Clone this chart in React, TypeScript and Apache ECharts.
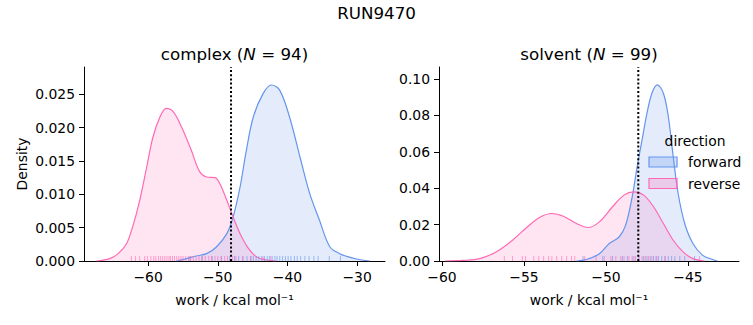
import React, { useEffect, useRef } from "react";
import * as echarts from "echarts";

// ---- data ----
const complexForwardKde: number[][] = [
  [-55.9, 0], [-54.5, 0.00036], [-53.1, 0.00075], [-51.6, 0.0011], [-50.2, 0.0021],
  [-48.7, 0.0041], [-47.8, 0.0066], [-46.8, 0.0111], [-45.9, 0.0166], [-44.9, 0.0216],
  [-43.5, 0.0251], [-42.3, 0.0264], [-41.1, 0.0256], [-39.7, 0.0216], [-38.2, 0.0156],
  [-36.8, 0.0101], [-35.4, 0.0061], [-33.9, 0.0021], [-32.5, 0.0011], [-31.5, 0.0007],
  [-30.1, 0.0003], [-28.2, 0],
];
const complexReverseKde: number[][] = [
  [-67.4, 0], [-65.5, 0.00036], [-64.3, 0.0011], [-63.1, 0.0026], [-62.2, 0.0052],
  [-61.2, 0.0091], [-60.2, 0.0141],
  [-59.3, 0.0186], [-58.3, 0.0216], [-57.4, 0.0229], [-56.4, 0.0224], [-55.2, 0.0201],
  [-53.8, 0.0166], [-52.6, 0.0134], [-51.6, 0.0126], [-50.4, 0.0125], [-49.7, 0.0116],
  [-48.7, 0.0091], [-47.8, 0.0066], [-46.8, 0.0041], [-45.6, 0.0019], [-44.4, 0.0006],
  [-43.0, 0.00015], [-41.6, 0],
];
const solventForwardKde: number[][] = [
  [-51.8, 0], [-51.2, 0.0008], [-50.4, 0.004], [-49.8, 0.0096], [-49.2, 0.0132],
  [-48.8, 0.0197], [-48.4, 0.0353], [-48.1, 0.0518], [-47.8, 0.0665], [-47.5, 0.0812],
  [-47.2, 0.0922], [-46.87, 0.0968], [-46.5, 0.0922], [-46.2, 0.0794], [-45.9, 0.0573],
  [-45.6, 0.0371], [-45.2, 0.0206], [-44.7, 0.0096], [-44.1, 0.0031], [-43.5, 0.0008],
  [-43.2, 0],
];
const solventReverseKde: number[][] = [
  [-59.8, 0], [-58.7, 0.0003], [-57.7, 0.0013], [-56.7, 0.005], [-55.7, 0.0114],
  [-54.8, 0.0187], [-54.0, 0.0242], [-53.3, 0.0261], [-52.6, 0.0246], [-51.8, 0.0206],
  [-51.1, 0.0184], [-50.4, 0.0215], [-49.6, 0.0298], [-48.9, 0.0362], [-48.3, 0.038],
  [-47.7, 0.0362], [-47.1, 0.0298], [-46.5, 0.0206], [-45.9, 0.0114], [-45.3, 0.005],
  [-44.7, 0.0013], [-44.0, 0],
];

const complexForwardRug = [
  -54.0, -52.3, -50.8, -49.5, -48.3, -47.6, -47.0, -46.4, -45.8, -45.3, -44.9, -44.5,
  -44.1, -43.7, -43.3, -42.9, -42.6, -42.2, -41.8, -41.5, -41.1, -40.7, -40.3, -39.9,
  -39.5, -39.0, -38.6, -38.1, -37.5, -36.9, -36.2, -35.6, -34.0, -32.4,
];
const complexReverseRug = [
  -62.4, -61.8, -61.2, -60.5, -60.1, -59.6, -59.2, -58.9, -58.5, -58.2, -57.9, -57.6,
  -57.3, -57.0, -56.8, -56.5, -56.2, -55.9, -55.6, -55.3, -55.0, -54.6, -54.2, -53.9,
  -53.5, -53.1, -52.7, -52.2, -51.8, -51.3, -50.9, -50.4, -50.0, -49.5, -49.0, -48.6,
  -47.9, -47.4, -46.4, -45.2, -43.5, -42.4,
];
const solventForwardRug = [
  -51.4, -50.2, -49.6, -49.0, -48.7, -48.3, -48.0, -47.7, -47.5, -47.3, -47.1, -46.95,
  -46.8, -46.6, -46.4, -46.2, -46.0, -45.8, -45.5, -45.2, -44.6,
];
const solventReverseRug = [
  -56.2, -55.7, -55.1, -54.9, -54.4, -54.1, -53.8, -53.5, -53.3, -53.0, -52.7, -52.4,
  -52.1, -51.9, -51.3, -50.6, -50.1, -49.7, -49.4, -49.1, -48.9, -48.6, -48.4, -48.2,
  -48.0, -47.8, -47.6, -47.4, -47.2, -46.9, -46.4, -44.3,
];

const complexEstimate = -48.1;
const solventEstimate = -48.03;

const complexXTicks = [-60, -50, -40, -30];
const solventXTicks = [-60, -55, -50, -45];
const complexYTicks = [0, 0.005, 0.01, 0.015, 0.02, 0.025];
const solventYTicks = [0, 0.02, 0.04, 0.06, 0.08, 0.1];

const complexRange = { xmin: -69.2, xmax: -26.0, ymax: 0.0291 };
const solventRange = { xmin: -60.18, xmax: -41.89, ymax: 0.1066 };

const BLUE = "#6495ED";
const PINK = "#FF69B4";
const BLUE_FILL = "rgba(100,149,237,0.25)";
const PINK_FILL = "rgba(255,105,180,0.25)";
const FONT = "DejaVu Sans";

const minus = (s: string) => s.replace("-", "\u2212");

export default function App() {
  const ref = useRef<HTMLDivElement>(null);
  useEffect(() => {
    if (!ref.current) return;
    const chart = echarts.init(ref.current, undefined, { renderer: "svg" });

    const axisCommon = {
      axisLine: { show: true, lineStyle: { color: "#000", width: 1 } },
      axisTick: { show: true, length: 5, lineStyle: { color: "#000", width: 1 } },
      splitLine: { show: false },
    };
    const labelStyle = { color: "#000", fontSize: 13.9, fontFamily: FONT };

    const kde = (data: number[][], idx: number, color: string, fill: string) => ({
      type: "line",
      xAxisIndex: idx,
      yAxisIndex: idx,
      data,
      smooth: 0.35,
      symbol: "none",
      lineStyle: { color, width: 1.2 },
      areaStyle: { color: fill, origin: "start" },
      z: 2,
    });
    const rug = (vals: number[], idx: number, color: string) => ({
      type: "custom",
      xAxisIndex: idx,
      yAxisIndex: idx,
      data: vals.map((v) => [v, 0]),
      encode: { x: 0, y: 1 },
      z: 3,
      renderItem: (_p: any, api: any) => {
        const pt = api.coord([api.value(0), 0]);
        return {
          type: "line",
          shape: { x1: pt[0], y1: pt[1], x2: pt[0], y2: pt[1] - 5 },
          style: { stroke: color, lineWidth: 1, opacity: 0.6 },
        };
      },
    });
    const vline = (x: number, ymax: number, idx: number) => ({
      type: "line",
      xAxisIndex: idx,
      yAxisIndex: idx,
      data: [[x, 0], [x, ymax]],
      symbol: "none",
      lineStyle: { color: "#000", width: 2, type: [2, 2.2] },
      z: 5,
    });

    const option: any = {
      animation: false,
      textStyle: { fontFamily: FONT },
      grid: [
        { left: 84, top: 67, width: 301, height: 194 },
        { left: 439, top: 67, width: 300, height: 194 },
      ],
      xAxis: [
        {
          type: "value", gridIndex: 0, min: complexRange.xmin, max: complexRange.xmax,
          ...axisCommon,
          axisTick: { ...axisCommon.axisTick, customValues: complexXTicks },
          axisLabel: { ...labelStyle, margin: 9, customValues: complexXTicks, formatter: (v: number) => minus(String(v)) },
        },
        {
          type: "value", gridIndex: 1, min: solventRange.xmin, max: solventRange.xmax,
          ...axisCommon,
          axisTick: { ...axisCommon.axisTick, customValues: solventXTicks },
          axisLabel: { ...labelStyle, margin: 9, customValues: solventXTicks, formatter: (v: number) => minus(String(v)) },
        },
      ],
      yAxis: [
        {
          type: "value", gridIndex: 0, min: 0, max: complexRange.ymax,
          ...axisCommon,
          axisTick: { ...axisCommon.axisTick, customValues: complexYTicks },
          axisLabel: { ...labelStyle, margin: 9, customValues: complexYTicks, formatter: (v: number) => v.toFixed(3) },
        },
        {
          type: "value", gridIndex: 1, min: 0, max: solventRange.ymax,
          ...axisCommon,
          axisTick: { ...axisCommon.axisTick, customValues: solventYTicks },
          axisLabel: { ...labelStyle, margin: 9, customValues: solventYTicks, formatter: (v: number) => v.toFixed(2) },
        },
      ],
      series: [
        kde(complexForwardKde, 0, BLUE, BLUE_FILL),
        kde(complexReverseKde, 0, PINK, PINK_FILL),
        rug(complexForwardRug, 0, BLUE),
        rug(complexReverseRug, 0, PINK),
        vline(complexEstimate, complexRange.ymax, 0),
        kde(solventForwardKde, 1, BLUE, BLUE_FILL),
        kde(solventReverseKde, 1, PINK, PINK_FILL),
        rug(solventForwardRug, 1, BLUE),
        rug(solventReverseRug, 1, PINK),
        vline(solventEstimate, solventRange.ymax, 1),
      ],
      graphic: [
        {
          type: "text", x: 376.5, y: 13, z: 100,
          style: { text: "RUN9470", fill: "#000", font: `16.7px '${FONT}'`, align: "center", verticalAlign: "middle" },
        },
        {
          type: "text", x: 234.5, y: 54, z: 100,
          style: {
            text: "{a|complex (}{i|N}{a| = 94)}", align: "center", verticalAlign: "middle",
            rich: {
              a: { fontSize: 16.7, fontFamily: FONT, fill: "#000" },
              i: { fontSize: 16.7, fontFamily: FONT, fontStyle: "italic", fill: "#000" },
            },
          },
        },
        {
          type: "text", x: 589, y: 54, z: 100,
          style: {
            text: "{a|solvent (}{i|N}{a| = 99)}", align: "center", verticalAlign: "middle",
            rich: {
              a: { fontSize: 16.7, fontFamily: FONT, fill: "#000" },
              i: { fontSize: 16.7, fontFamily: FONT, fontStyle: "italic", fill: "#000" },
            },
          },
        },
        {
          type: "text", x: 22, y: 164, rotation: Math.PI / 2, z: 100,
          style: { text: "Density", fill: "#000", font: `13.9px '${FONT}'`, align: "center", verticalAlign: "middle" },
        },
        {
          type: "text", x: 234.5, y: 300, z: 100,
          style: { text: "work / kcal mol\u207B\u00B9", fill: "#000", font: `13.9px '${FONT}'`, align: "center", verticalAlign: "middle" },
        },
        {
          type: "text", x: 589, y: 300, z: 100,
          style: { text: "work / kcal mol\u207B\u00B9", fill: "#000", font: `13.9px '${FONT}'`, align: "center", verticalAlign: "middle" },
        },
        {
          type: "text", x: 695, y: 141, z: 100,
          style: { text: "direction", fill: "#000", font: `13.9px '${FONT}'`, align: "center", verticalAlign: "middle" },
        },
        {
          type: "rect", z: 100, shape: { x: 649, y: 157, width: 28, height: 10 },
          style: { fill: BLUE_FILL, stroke: BLUE, lineWidth: 1.2 },
        },
        {
          type: "text", x: 688, y: 162, z: 100,
          style: { text: "forward", fill: "#000", font: `13.9px '${FONT}'`, align: "left", verticalAlign: "middle" },
        },
        {
          type: "rect", z: 100, shape: { x: 649, y: 178.5, width: 28, height: 10 },
          style: { fill: PINK_FILL, stroke: PINK, lineWidth: 1.2 },
        },
        {
          type: "text", x: 688, y: 183.5, z: 100,
          style: { text: "reverse", fill: "#000", font: `13.9px '${FONT}'`, align: "left", verticalAlign: "middle" },
        },
      ],
    };
    chart.setOption(option);
    return () => chart.dispose();
  }, []);

  return (
    <div
      ref={ref}
      style={{ position: "fixed", left: 0, top: 0, width: 753, height: 325, background: "#fff" }}
    />
  );
}
